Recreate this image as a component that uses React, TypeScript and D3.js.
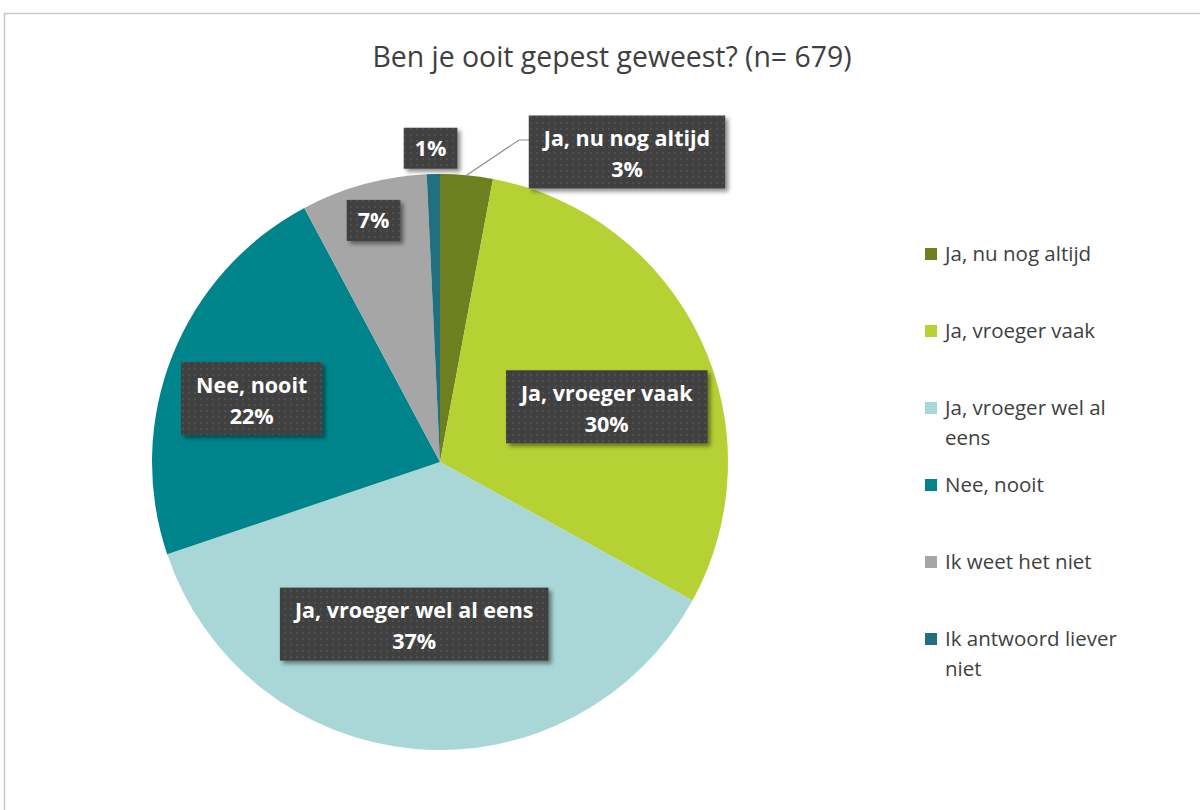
import React from "react";
import * as d3 from "d3";

const categories = [
  "Ja, nu nog altijd",
  "Ja, vroeger vaak",
  "Ja, vroeger wel al eens",
  "Nee, nooit",
  "Ik weet het niet",
  "Ik antwoord liever niet",
];
const counts = [20, 204, 250, 152, 48, 5];
const percentLabels = ["3%", "30%", "37%", "22%", "7%", "1%"];
const colors = ["#6e7f1f", "#b6d134", "#a9d6d7", "#00848b", "#a6a6a6", "#216f7f"];
const legendLines = [
  ["Ja, nu nog altijd"],
  ["Ja, vroeger vaak"],
  ["Ja, vroeger wel al", "eens"],
  ["Nee, nooit"],
  ["Ik weet het niet"],
  ["Ik antwoord liever", "niet"],
];
const showCategoryInLabel = [true, true, true, true, false, false];
// label layout: radius factor and angle shift (deg)
const labelRadius = [1.0, 0.61, 0.57, 0.69, 0.87, 1.09];
const labelShift = [0, 7, 4, -3, 0, -0.4];

const W = 1200, H = 810;
const cx = 440, cy = 462, R = 288;
const FONT = "'Open Sans', 'Noto Sans', sans-serif";
const LABEL_FS = 21.5;

function measure(text: string, font: string): number {
  if (typeof document === "undefined") return text.length * 10;
  const c = document.createElement("canvas").getContext("2d");
  if (!c) return text.length * 10;
  c.font = font;
  return c.measureText(text).width;
}

export default function App() {
  const pie = d3.pie<number>().sort(null).startAngle(0).endAngle(2 * Math.PI);
  const arcs = pie(counts);
  const arc = d3.arc<d3.PieArcDatum<number>>().innerRadius(0).outerRadius(R);

  const labels = arcs.map((a, i) => {
    const mid = (a.startAngle + a.endAngle) / 2 + (labelShift[i] * Math.PI) / 180;
    const r = R * labelRadius[i];
    return { x: cx + r * Math.sin(mid), y: cy - r * Math.cos(mid), mid };
  });

  const firstMid = (arcs[0].startAngle + arcs[0].endAngle) / 2;
  const edge = { x: cx + R * Math.sin(firstMid), y: cy - R * Math.cos(firstMid) };
  const box0 = { x: 627, y: 152 };
  const labelFont = `bold ${LABEL_FS}px 'Open Sans'`;

  return (
    <svg width={W} height={H} style={{ position: "absolute", left: 0, top: 0 }}>
      <defs>
        <pattern id="dots" width="6" height="6" patternUnits="userSpaceOnUse">
          <rect width="6" height="6" fill="#3f3f3f" />
          <circle cx="3" cy="3" r="0.9" fill="#575757" />
        </pattern>
        <filter id="shadow" x="-20%" y="-20%" width="140%" height="150%">
          <feDropShadow dx="3" dy="3" stdDeviation="2" floodColor="#000" floodOpacity="0.45" />
        </filter>
      </defs>
      <rect x={0} y={0} width={W} height={H} fill="#fff" />
      <rect x={4.5} y={13.5} width={W + 10} height={H + 10} fill="#fff" stroke="#c6c6c6" strokeWidth={1.5} />
      <text x={612} y={67} textAnchor="middle" fontFamily={FONT} fontSize={28.4} fill="#404040">
        Ben je ooit gepest geweest? (n= 679)
      </text>

      <g transform={`translate(${cx},${cy})`}>
        {arcs.map((a, i) => (
          <path key={i} d={arc(a) || ""} fill={colors[i]} />
        ))}
      </g>

      <polyline
        points={`${edge.x},${edge.y} ${box0.x - 96 - 12},${box0.y - 12} ${box0.x - 96},${box0.y - 12}`}
        fill="none"
        stroke="#8c8c8c"
        strokeWidth={1.2}
      />

      {arcs.map((a, i) => {
        const p = i === 0 ? box0 : labels[i];
        const twoLine = showCategoryInLabel[i];
        const txt = twoLine ? categories[i] : percentLabels[i];
        const tw = measure(txt, labelFont);
        const w = tw + (twoLine ? 30 : 22);
        const h = twoLine ? 73 : 41;
        return (
          <g key={i}>
            <rect x={p.x - w / 2} y={p.y - h / 2} width={w} height={h} fill="url(#dots)" filter="url(#shadow)" />
            {twoLine ? (
              <>
                <text x={p.x} y={p.y - 6} textAnchor="middle" fontFamily={FONT} fontWeight={700} fontSize={LABEL_FS} fill="#fff">
                  {txt}
                </text>
                <text x={p.x} y={p.y + 25} textAnchor="middle" fontFamily={FONT} fontWeight={700} fontSize={LABEL_FS} fill="#fff">
                  {percentLabels[i]}
                </text>
              </>
            ) : (
              <text x={p.x} y={p.y + 8} textAnchor="middle" fontFamily={FONT} fontWeight={700} fontSize={LABEL_FS} fill="#fff">
                {percentLabels[i]}
              </text>
            )}
          </g>
        );
      })}

      {legendLines.map((lines, i) => {
        const y0 = 254 + i * 77;
        return (
          <g key={i}>
            <rect x={925} y={y0 - 6} width={12} height={12} fill={colors[i]} />
            {lines.map((l, j) => (
              <text key={j} x={945} y={y0 + 7 + j * 30} fontFamily={FONT} fontSize={20.5} fill="#404040">
                {l}
              </text>
            ))}
          </g>
        );
      })}
    </svg>
  );
}
